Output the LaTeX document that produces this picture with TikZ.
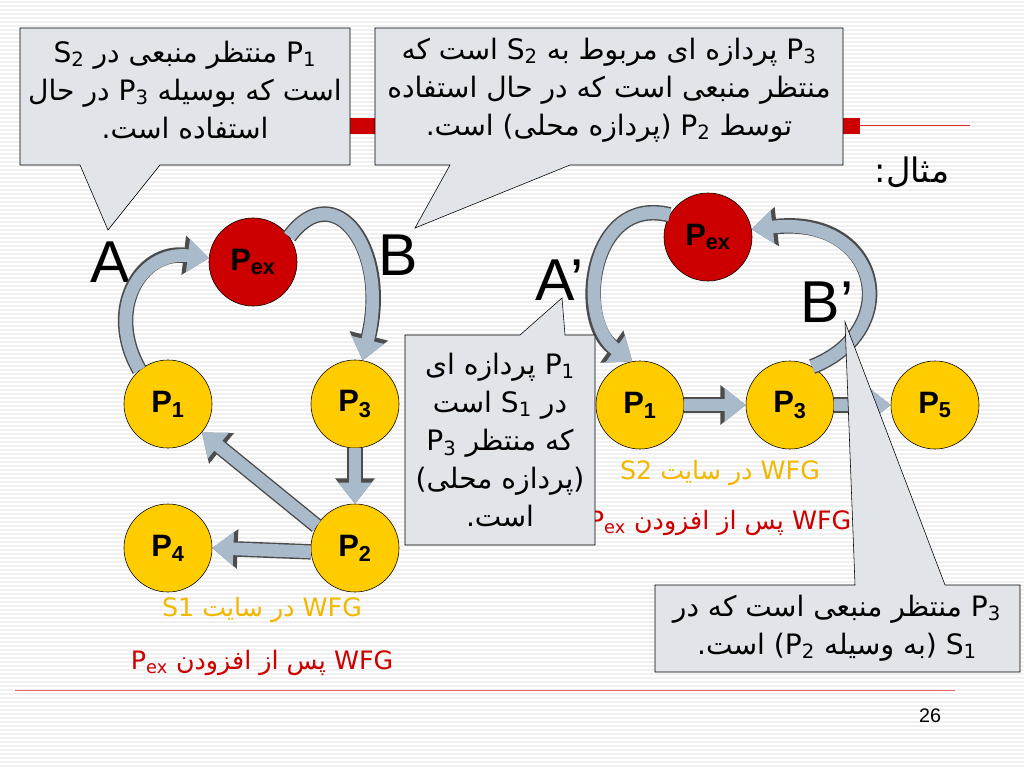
\documentclass[tikz,border=0pt]{standalone}
\usepackage{fontspec}
\setmainfont{Liberation Sans}
\newfontfamily\fa[Script=Arabic]{DejaVu Sans}
\TeXXeTstate=1
\usetikzlibrary{arrows.meta}
\definecolor{arrowfill}{HTML}{A9BACB}
\definecolor{boxfill}{HTML}{E1E5EA}
\definecolor{pyellow}{HTML}{FFCC00}
\definecolor{pred}{HTML}{CC0000}
\definecolor{lblyellow}{HTML}{F2B800}
\newcommand{\Lx}[1]{\beginL#1\endL}
\newcommand{\Rl}[1]{\beginR#1\endR}
\tikzset{
  procnode/.style={circle, draw, thin, fill=pyellow, minimum size=2.2cm, inner sep=0pt, font=\fontsize{22}{22}\selectfont\bfseries},
  exnode/.style={procnode, fill=pred},
  callout/.style={draw, thin, fill=boxfill},
  calltext/.style={align=center, font=\fa\fontsize{20}{27}\selectfont},
  bigletter/.style={font=\fontsize{42}{42}\selectfont},
  wfglabel/.style={font=\fa\fontsize{18}{18}\selectfont},
  blockarrow/.style={preaction={draw=black!70, line width=11pt, -{Triangle[length=18pt,width=27pt]}}, draw=arrowfill, line width=9pt, -{Triangle[length=15pt,width=23pt]}}
}
\begin{document}
\begin{tikzpicture}[x=0.025cm, y=-0.025cm]
\useasboundingbox (0,0) rectangle (1024,768);
% background stripes
\fill[white] (0,0) rectangle (1024,768);
\foreach \y in {2,6,...,766} \draw[gray!12, line width=1pt] (0,\y) -- (1024,\y);
% red rules
\fill[pred] (340,118) rectangle (860,134);
\draw[pred!80, thin] (860,125) -- (970,125);
\draw[pred!60, thin] (15,690) -- (955,690);
\node at (930,716) (pagenum) {\fontsize{14}{14}\selectfont 26};

% callouts
\draw[callout] (20,28) -- (350,28) -- (350,165) -- (160,165) -- (108,230) -- (80,165) -- (20,165) -- cycle;
\node[calltext] at (185,90) (c1) {\Rl{\Lx{P\textsubscript{1}} منتظر منبعی در \Lx{S\textsubscript{2}}}\\ \Rl{است که بوسیله \Lx{P\textsubscript{3}} در حال}\\ \Rl{استفاده است.}};
\draw[callout] (375,28) -- (843,28) -- (843,165) -- (570,165) -- (415,228) -- (450,165) -- (375,165) -- cycle;
\node[calltext] at (609,90) (c2) {\Rl{\Lx{P\textsubscript{3}} پردازه ای مربوط به \Lx{S\textsubscript{2}} است که}\\ \Rl{منتظر منبعی است که در حال استفاده}\\ \Rl{توسط \Lx{P\textsubscript{2}} (پردازه محلی) است.}};
\node[font=\fa\fontsize{24}{24}\selectfont] at (912,172) (example) {\Rl{مثال:}};

% left graph
\node[exnode] at (253,262) (pexl) {P\textsubscript{ex}};
\node[procnode] at (168,404) (p1l) {P\textsubscript{1}};
\node[procnode] at (355,404) (p3l) {P\textsubscript{3}};
\node[procnode] at (168,548) (p4l) {P\textsubscript{4}};
\node[procnode] at (355,548) (p2l) {P\textsubscript{2}};
\node[bigletter] at (110,262) (la) {A};
\node[bigletter] at (398,255) (lb) {B};
\draw[blockarrow] (p1l.130) .. controls (105,310) and (140,250) .. (pexl.175);
\draw[blockarrow] (pexl.35) .. controls (335,175) and (390,250) .. (p3l.80);
\draw[blockarrow] (p3l.270) -- (p2l.90);
\draw[blockarrow] (p2l.150) -- (p1l.-40);
\draw[blockarrow] (p2l.185) -- (p4l.0);
\node[wfglabel, text=lblyellow] at (262,610) (wfg1) {\Rl{\Lx{WFG} در سایت \Lx{S1}}};
\node[wfglabel, text=pred] at (262,663) (wfg1ex) {\Rl{\Lx{WFG} پس از افزودن \Lx{P\textsubscript{ex}}}};

% right graph
\node[exnode] at (708,237) (pexr) {P\textsubscript{ex}};
\node[procnode] at (640,405) (p1r) {P\textsubscript{1}};
\node[procnode] at (790,405) (p3r) {P\textsubscript{3}};
\node[procnode] at (935,405) (p5r) {P\textsubscript{5}};
\node[bigletter] at (560,280) (ra) {A’};
\node[bigletter] at (827,302) (rb) {B’};
\draw[blockarrow] (pexr.150) .. controls (590,195) and (575,320) .. (p1r.100);
\draw[blockarrow] (p3r.60) .. controls (905,330) and (880,215) .. (pexr.10);
\draw[blockarrow] (p1r.0) -- (p3r.180);
\draw[blockarrow] (p3r.0) -- (p5r.180);
\node[wfglabel, text=lblyellow] at (720,473) (wfg2) {\Rl{\Lx{WFG} در سایت \Lx{S2}}};
\node[wfglabel, text=pred] at (720,523) (wfg2ex) {\Rl{\Lx{WFG} پس از افزودن \Lx{P\textsubscript{ex}}}};

% middle and lower callouts
\draw[callout] (405,335) -- (520,335) -- (562,298) -- (565,335) -- (595,335) -- (595,545) -- (405,545) -- cycle;
\node[calltext] at (500,440) (c3) {\Rl{\Lx{P\textsubscript{1}} پردازه ای}\\ \Rl{در \Lx{S\textsubscript{1}} است}\\ \Rl{که منتظر \Lx{P\textsubscript{3}}}\\ \Rl{(پردازه محلی)}\\ \Rl{است.}};
\draw[callout] (655,585) -- (855,585) -- (845,322) -- (945,585) -- (1020,585) -- (1020,672) -- (655,672) -- cycle;
\node[calltext] at (837,628) (c4) {\Rl{\Lx{P\textsubscript{3}} منتظر منبعی است که در}\\ \Rl{\Lx{S\textsubscript{1}} (به وسیله \Lx{P\textsubscript{2}}) است.}};
\end{tikzpicture}
\end{document}
